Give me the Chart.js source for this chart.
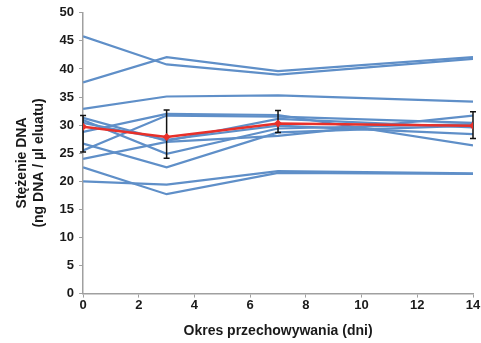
<!DOCTYPE html>
<html>
<head>
<meta charset="utf-8">
<script src="https://cdn.jsdelivr.net/npm/chart.js@4"></script>
<style>
  html, body { margin: 0; padding: 0; background: #fff; }
  #wrap { width: 481px; height: 343px; }
</style>
</head>
<body>
<div id="wrap"><canvas id="dna-chart" width="481" height="343"></canvas></div>
<script>
// storage days
const days = [0, 3, 7, 14];

// individual samples (ng DNA / ul)
const sample1 = [45.8, 40.8, 39.0, 41.8];
const sample2 = [37.6, 42.1, 39.6, 42.1];
const sample3 = [32.9, 35.1, 35.3, 34.2];
const sample4 = [28.8, 32.0, 31.8, 26.4];
const sample5 = [25.5, 31.7, 31.5, 30.4];
const sample6 = [31.3, 27.2, 31.1, 29.6];
const sample7 = [30.9, 24.9, 29.4, 30.2];
const sample8 = [30.4, 27.4, 29.9, 28.4];
const sample9 = [26.7, 22.5, 28.7, 29.9];
const sample10 = [24.0, 27.0, 28.1, 31.7];
const sample11 = [22.5, 17.7, 21.5, 21.3];
const sample12 = [20.0, 19.4, 21.8, 21.4];

// mean with error bar extent
const meanValues = [29.7, 27.9, 30.3, 29.9];
const errUp = [2.0, 4.8, 2.3, 2.5];
const errDown = [4.5, 3.8, 1.6, 2.3];

const xTicks = [0, 2, 4, 6, 8, 10, 12, 14];
const yTicks = [0, 5, 10, 15, 20, 25, 30, 35, 40, 45, 50];

const samples = [sample1, sample2, sample3, sample4, sample5, sample6,
  sample7, sample8, sample9, sample10, sample11, sample12];

const BLUE = "#5f8fc8";
const RED = "#e8302a";

function toPoints(vals) {
  return vals.map((v, i) => ({ x: days[i], y: v }));
}

const datasets = [{
  label: "mean",
  data: toPoints(meanValues),
  borderColor: RED,
  backgroundColor: RED,
  borderWidth: 2.5,
  pointRadius: 4,
  pointStyle: "rectRot",
  pointBorderWidth: 0
}];
samples.forEach((s, i) => {
  datasets.push({
    label: "sample " + (i + 1),
    data: toPoints(s),
    borderColor: BLUE,
    borderWidth: 2.2,
    pointRadius: 0
  });
});

// error bars drawn just before the red mean line
const errorBars = {
  id: "errorBars",
  beforeDatasetDraw(chart, args) {
    if (args.index !== 0) return;
    const ctx = chart.ctx;
    const xs = chart.scales.x, ys = chart.scales.y;
    ctx.save();
    ctx.strokeStyle = "#111";
    ctx.lineWidth = 1.5;
    meanValues.forEach((v, i) => {
      const px = xs.getPixelForValue(days[i]);
      const top = ys.getPixelForValue(v + errUp[i]);
      const bot = ys.getPixelForValue(v - errDown[i]);
      ctx.beginPath();
      ctx.moveTo(px, top); ctx.lineTo(px, bot);
      ctx.moveTo(px - 3, top); ctx.lineTo(px + 3, top);
      ctx.moveTo(px - 3, bot); ctx.lineTo(px + 3, bot);
      ctx.stroke();
    });
    ctx.restore();
  }
};

const tickFont = { family: "'Liberation Sans', Arial, sans-serif", size: 13, weight: "bold" };
const titleFont = { family: "'Liberation Sans', Arial, sans-serif", size: 14, weight: "bold" };
const pad = "\u00a0\u00a0\u00a0\u00a0\u00a0";

new Chart(document.getElementById("dna-chart").getContext("2d"), {
  type: "line",
  data: { datasets: datasets },
  options: {
    responsive: false,
    animation: false,
    layout: { padding: { left: 14, right: 8, top: 9, bottom: 3 } },
    plugins: {
      legend: { display: false },
      tooltip: { enabled: false }
    },
    scales: {
      x: {
        type: "linear",
        min: 0, max: 14,
        afterBuildTicks: axis => { axis.ticks = xTicks.map(v => ({ value: v })); },
        ticks: { font: tickFont, color: "#1a1a1a", padding: 0, maxRotation: 0 },
        grid: { drawOnChartArea: false, drawTicks: true, tickLength: 4, color: "#a0a0a0" },
        border: { color: "#a0a0a0", width: 1.5 },
        title: { display: true, text: "Okres przechowywania (dni)", font: titleFont, color: "#1a1a1a", padding: { top: 10, bottom: 0 } }
      },
      y: {
        min: 0, max: 50,
        afterBuildTicks: axis => { axis.ticks = yTicks.map(v => ({ value: v })); },
        ticks: { font: tickFont, color: "#1a1a1a", padding: 5 },
        grid: { drawOnChartArea: false, drawTicks: true, tickLength: 4, color: "#a0a0a0" },
        border: { color: "#a0a0a0", width: 1.5 },
        title: { display: true, text: ["Stężenie DNA" + pad, "(ng DNA / µl eluatu)" + pad], font: titleFont, color: "#1a1a1a", padding: { top: 0, bottom: 7 } }
      }
    }
  },
  plugins: [errorBars]
});
</script>
</body>
</html>
